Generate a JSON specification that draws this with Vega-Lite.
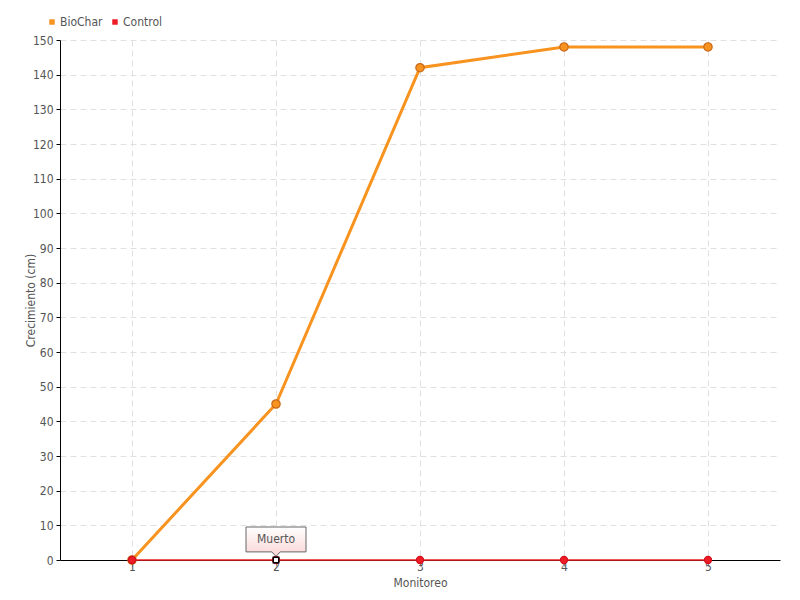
{
  "$schema": "https://vega.github.io/schema/vega-lite/v6.json",
  "width": 720,
  "height": 520,
  "autosize": {"type": "none"},
  "padding": {"left": 60, "top": 40, "right": 20, "bottom": 40},
  "background": "white",
  "config": {
    "font": "DejaVu Sans Condensed",
    "view": {"stroke": null},
    "axis": {
      "labelFont": "DejaVu Sans Condensed",
      "titleFont": "DejaVu Sans Condensed",
      "labelColor": "#555",
      "titleColor": "#555",
      "labelFontSize": 12,
      "titleFontSize": 12,
      "titleFontWeight": "normal",
      "gridColor": "#e0e0e0",
      "gridDash": [6, 4],
      "domainColor": "#000",
      "tickColor": "#000"
    },
    "legend": {"labelFont": "DejaVu Sans Condensed", "labelFontSize": 12, "labelColor": "#555"}
  },
  "datasets": {
    "series": [
      {"Monitoreo": "1", "Serie": "BioChar", "Crecimiento": 0},
      {"Monitoreo": "2", "Serie": "BioChar", "Crecimiento": 45},
      {"Monitoreo": "3", "Serie": "BioChar", "Crecimiento": 142},
      {"Monitoreo": "4", "Serie": "BioChar", "Crecimiento": 148},
      {"Monitoreo": "5", "Serie": "BioChar", "Crecimiento": 148},
      {"Monitoreo": "1", "Serie": "Control", "Crecimiento": 0},
      {"Monitoreo": "2", "Serie": "Control", "Crecimiento": 0},
      {"Monitoreo": "3", "Serie": "Control", "Crecimiento": 0},
      {"Monitoreo": "4", "Serie": "Control", "Crecimiento": 0},
      {"Monitoreo": "5", "Serie": "Control", "Crecimiento": 0}
    ],
    "notes": [
      {"Monitoreo": "2", "Crecimiento": 0, "Nota": "Muerto"}
    ]
  },
  "encoding": {
    "x": {
      "field": "Monitoreo", "type": "ordinal",
      "scale": {"type": "point", "padding": 0.5, "domain": ["1","2","3","4","5"]},
      "axis": {"labelAngle": 0, "title": "Monitoreo", "grid": true, "domain": true, "tickColor": "#999", "tickSize": 6, "labelPadding": -5, "titleY": 17}
    },
    "y": {
      "field": "Crecimiento", "type": "quantitative",
      "scale": {"domain": [0, 150], "nice": false},
      "axis": {"values": [0,10,20,30,40,50,60,70,80,90,100,110,120,130,140,150], "title": "Crecimiento (cm)", "tickSize": 4, "labelPadding": 3, "titleX": -30, "titleBaseline": "middle"}
    }
  },
  "layer": [
    {
      "data": {"name": "series"},
      "transform": [{"filter": "datum.Serie === 'BioChar'"}],
      "mark": {"type": "line", "strokeWidth": 3},
      "encoding": {
        "color": {
          "field": "Serie", "type": "nominal",
          "scale": {"domain": ["BioChar", "Control"], "range": ["#f7931e", "#ee1c25"]},
          "legend": {"title": null, "orient": "none", "direction": "horizontal", "legendX": -14, "legendY": -24, "symbolType": "square", "symbolSize": 30, "symbolStrokeWidth": 0, "columnPadding": 6, "labelOffset": 2,
            "encode": {"symbols": {"update": {"strokeWidth": {"value": 0}, "size": {"value": 30}, "fill": {"scale": "color", "field": "value"}, "opacity": {"value": 1}}}}}
        }
      }
    },
    {
      "data": {"name": "series"},
      "transform": [{"filter": "datum.Serie === 'BioChar'"}],
      "mark": {"type": "point", "filled": true, "opacity": 1, "size": 70, "stroke": "#c9681a", "strokeWidth": 1.2},
      "encoding": {"color": {"field": "Serie", "type": "nominal"}}
    },
    {
      "data": {"name": "series"},
      "transform": [{"filter": "datum.Serie === 'Control'"}],
      "mark": {"type": "line", "strokeWidth": 1.5},
      "encoding": {"color": {"field": "Serie", "type": "nominal"}}
    },
    {
      "data": {"name": "series"},
      "transform": [{"filter": "datum.Serie === 'Control'"}],
      "mark": {"type": "point", "filled": true, "opacity": 1, "size": 50, "stroke": "#d01020", "strokeWidth": 1.2},
      "encoding": {"color": {"field": "Serie", "type": "nominal"}}
    },
    {
      "data": {"name": "notes"},
      "mark": {
        "type": "point",
        "shape": "M-1,-1.1 L1,-1.1 L1,-0.27 L0.14,-0.27 L0,-0.12 L-0.14,-0.27 L-1,-0.27 Z",
        "size": 3600,
        "filled": true,
        "opacity": 1,
        "fill": {"gradient": "linear", "x1": 0, "y1": 0, "x2": 0, "y2": 1, "stops": [{"offset": 0, "color": "#ffffff"}, {"offset": 1, "color": "#fbd5d5"}]},
        "stroke": "#666",
        "strokeWidth": 1
      }
    },
    {
      "data": {"name": "notes"},
      "mark": {"type": "text", "dy": -21, "fontSize": 12, "color": "#555", "font": "DejaVu Sans Condensed"},
      "encoding": {"text": {"field": "Nota"}}
    },
    {
      "data": {"name": "notes"},
      "mark": {"type": "point", "shape": "square", "size": 30, "filled": true, "fill": "white", "stroke": "black", "strokeWidth": 1.5, "opacity": 1}
    }
  ]
}
